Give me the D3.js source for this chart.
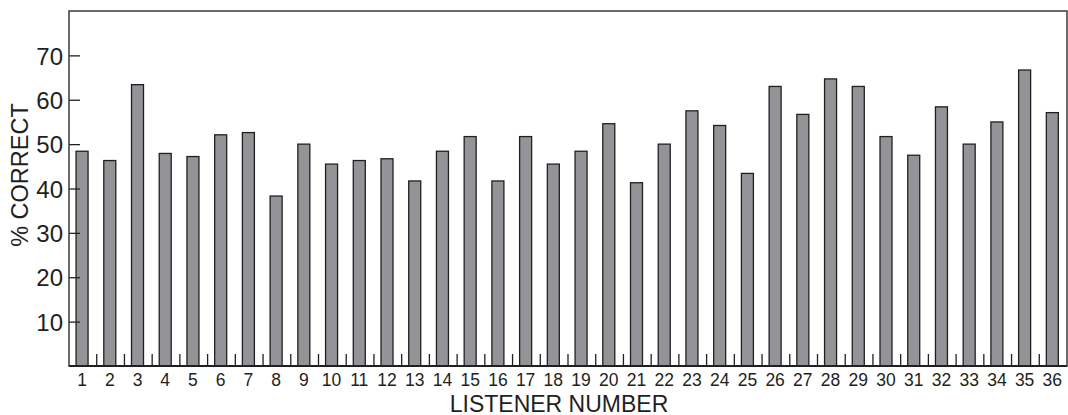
<!DOCTYPE html>
<html>
<head>
<meta charset="utf-8">
<script src="https://cdn.jsdelivr.net/npm/d3@7"></script>
<style>
  body { margin: 0; background: #fff; }
  svg text { font-family: Arial, "Liberation Sans", sans-serif; fill: #231f20; }
</style>
</head>
<body>
<div id="bar-chart"></div>
<script>
// listener numbers and % correct
const listeners = d3.range(1, 37);
const pctCorrect = [
	48.4, 46.3, 63.4, 47.9, 47.2, 52.1, 52.6, 38.3, 50.0, 45.5,
	46.3, 46.7, 41.7, 48.4, 51.7, 41.7, 51.7, 45.5, 48.4, 54.6,
	41.3, 50.0, 57.5, 54.2, 43.4, 63.0, 56.7, 64.7, 63.0, 51.7,
	47.5, 58.4, 50.0, 55.0, 66.7, 57.1
];
const yTicks = [10, 20, 30, 40, 50, 60, 70];

const W = 1068, H = 415;
const margin = {top: 11, right: 1, bottom: 49, left: 69};
const width = W - margin.left - margin.right,
	height = H - margin.top - margin.bottom;

const data = listeners.map((d, i) => ({id: d, value: pctCorrect[i]}));

const svg = d3.select("#bar-chart")
	.append("svg")
		.attr("width", W)
		.attr("height", H)
	.append("g")
		.attr("transform", "translate(" + margin.left + "," + margin.top + ")");

const x = d3.scaleBand()
	.domain(listeners)
	.range([0, width])
	.padding(0);

const y = d3.scaleLinear()
	.domain([0, 80])
	.range([height, 0]);

const barW = 12;

// bars
svg.selectAll(".bar")
	.data(data)
	.enter()
	.append("rect")
		.attr("class", "bar")
		.attr("x", d => x(d.id) + x.bandwidth() / 2 - barW / 2 - 0.8)
		.attr("y", d => y(d.value))
		.attr("width", barW)
		.attr("height", d => y(0) - y(d.value))
		.style("fill", "#939498")
		.style("stroke", "#231f20")
		.style("stroke-width", 1.3);

// y axis: ticks pointing inward, labels outside
const yAxis = svg.append("g")
	.call(d3.axisLeft(y).tickValues(yTicks).tickSize(-11).tickPadding(17));
yAxis.select(".domain").remove();
yAxis.selectAll("line").attr("stroke", "#231f20").attr("stroke-width", 1.3);
yAxis.selectAll("text")
	.style("font-size", "24px")
	.attr("x", -6)
	.attr("dy", "0.36em");

// x axis: separators between bands, labels centred under bars
const bounds = listeners.slice(1).map(d => x(d));
svg.selectAll(".sep")
	.data(bounds)
	.enter()
	.append("line")
		.attr("x1", d => d).attr("x2", d => d)
		.attr("y1", height - 12).attr("y2", height)
		.attr("stroke", "#231f20")
		.attr("stroke-width", 1.3);

svg.selectAll(".xlab")
	.data(listeners)
	.enter()
	.append("text")
		.attr("x", d => x(d) + x.bandwidth() / 2 - 0.8)
		.attr("y", height + 20)
		.attr("text-anchor", "middle")
		.style("font-size", "17.5px")
		.text(d => d);

// frame
svg.append("rect")
	.attr("x", 0).attr("y", 0)
	.attr("width", width).attr("height", height)
	.attr("fill", "none")
	.attr("stroke", "#3a3a3a")
	.attr("stroke-width", 1.5);
svg.append("line")
	.attr("x1", 0).attr("x2", width)
	.attr("y1", height).attr("y2", height)
	.attr("stroke", "#231f20")
	.attr("stroke-width", 2);

// axis titles
svg.append("text")
	.attr("x", 490)
	.attr("y", height + 46)
	.attr("text-anchor", "middle")
	.style("font-size", "23px")
	.text("LISTENER NUMBER");

svg.append("text")
	.attr("transform", "translate(" + (28 - margin.left) + "," + (175 - margin.top) + ") rotate(-90)")
	.attr("text-anchor", "middle")
	.style("font-size", "23.5px")
	.text("% CORRECT");
</script>
</body>
</html>
